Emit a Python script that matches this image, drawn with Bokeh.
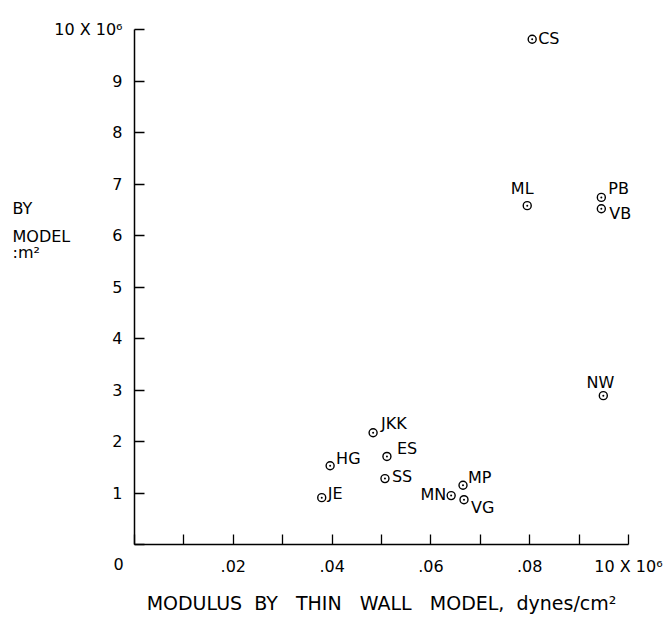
from bokeh.plotting import figure
from bokeh.models import FixedTicker, LabelSet, Label, ColumnDataSource, Range1d
from bokeh.core.properties import value
from bokeh.embed import file_html
from bokeh.resources import INLINE

# --- data ---
names = ["CS", "ML", "PB", "VB", "NW", "JKK", "ES", "HG", "SS", "JE", "MN", "MP", "VG"]
thin_wall = [0.0805, 0.0795, 0.0945, 0.0945, 0.0949, 0.0483, 0.0511, 0.0396,
             0.0507, 0.0379, 0.0641, 0.0665, 0.0667]
thick_wall = [9.81, 6.58, 6.74, 6.52, 2.89, 2.17, 1.71, 1.53, 1.28, 0.91, 0.95, 1.15, 0.87]

x_ticks = [0.0, 0.01, 0.02, 0.03, 0.04, 0.05, 0.06, 0.07, 0.08, 0.09, 0.10]
x_tick_labels = ["", "", ".02", "", ".04", "", ".06", "", ".08", "", "10 X 10\u2076"]
y_ticks = [0, 1, 2, 3, 4, 5, 6, 7, 8, 9, 10]
y_tick_labels = ["", "1", "2", "3", "4", "5", "6", "7", "8", "9", "10 X 10\u2076"]
x_title_words = ["MODULUS", "BY", "THIN", "WALL", "MODEL,", "dynes/cm\u00b2"]
y_title_fragments = ["BY", "MODEL", ":m\u00b2"]

# label placement (screen offsets, px) and alignment per point
label_dx = [6, -5, 7, 8, -3, 8, 10, 6, 7, 6, -5, 5, 7]
label_dy = [1, 17, 9, -5, 13, 9, 8, 7, 2, 4, 1, 8, -8]
label_align = ["left", "center", "left", "left", "center", "left", "left", "left",
               "left", "left", "right", "left", "left"]

FONT = "DejaVu Sans"
W, H = 671, 620
X0, X1 = 134, 628      # screen x of 0 and 0.10
Y0, Y1 = 544, 29       # screen y of 0 and 10
xs = (X1 - X0) / 0.10
ys = (Y0 - Y1) / 10.0

p = figure(width=W, height=H, output_backend="svg", toolbar_location=None,
           x_range=Range1d(-X0 / xs, (W - X0) / xs),
           y_range=Range1d(-(H - Y0) / ys, Y0 / ys),
           min_border=0)
p.outline_line_color = None
p.grid.visible = False
p.background_fill_color = "white"
p.border_fill_color = "white"

for ax in (p.xaxis[0], p.yaxis[0]):
    ax.fixed_location = 0
    ax.axis_line_color = "black"
    ax.axis_line_width = 1.5
    ax.major_tick_line_color = "black"
    ax.major_tick_line_width = 1.3
    ax.major_tick_in = 10
    ax.major_tick_out = 0
    ax.minor_tick_line_color = None
    ax.major_label_text_font = FONT
    ax.major_label_text_font_size = "16px"
    ax.major_label_text_color = "black"
    ax.major_label_standoff = 12

p.xaxis.bounds = (0, 0.10)
p.yaxis.bounds = (0, 10)
p.xaxis.ticker = FixedTicker(ticks=x_ticks)
p.xaxis.major_label_overrides = {t: l for t, l in zip(x_ticks, x_tick_labels)}
p.yaxis.ticker = FixedTicker(ticks=y_ticks)
p.yaxis.major_label_overrides = {t: l for t, l in zip(y_ticks, y_tick_labels)}

nb = "\u00a0"
gaps = [nb * 2, nb * 3, nb * 3, nb * 3, nb * 2]
title = x_title_words[0]
for g, w in zip(gaps, x_title_words[1:]):
    title += g + w
p.xaxis.axis_label = title
p.xaxis.axis_label_text_font = FONT
p.xaxis.axis_label_text_font_style = "normal"
p.xaxis.axis_label_text_font_size = "19px"
p.xaxis.axis_label_text_color = "black"
p.xaxis.axis_label_standoff = 13

p.scatter(thin_wall, thick_wall, marker="circle_dot", size=8,
          line_color="black", line_width=1.4, fill_color="white")

for al in ("left", "center", "right"):
    idx = [i for i, a in enumerate(label_align) if a == al]
    s = ColumnDataSource(dict(x=[thin_wall[i] for i in idx],
                              y=[thick_wall[i] for i in idx],
                              name=[names[i] for i in idx],
                              dx=[label_dx[i] for i in idx],
                              dy=[label_dy[i] for i in idx]))
    p.add_layout(LabelSet(x="x", y="y", text="name", source=s,
                          x_offset="dx", y_offset="dy",
                          text_align=al, text_baseline="middle",
                          text_font=value(FONT), text_font_size="16px",
                          text_color="black"))

# origin "0" label
p.add_layout(Label(x=0, y=0, x_offset=-16, y_offset=-19, text="0",
                   text_align="center", text_baseline="middle",
                   text_font=FONT, text_font_size="16px", text_color="black"))
# truncated y-axis title fragments (left edge of the page)
for txt, sy in zip(y_title_fragments, (208, 236, 252)):
    p.add_layout(Label(x=(12 - X0) / xs, y=(Y0 - sy) / ys, text=txt,
                       text_align="left", text_baseline="middle",
                       text_font=FONT, text_font_size="16px", text_color="black"))

open("out.html", "w").write(file_html(p, INLINE))
